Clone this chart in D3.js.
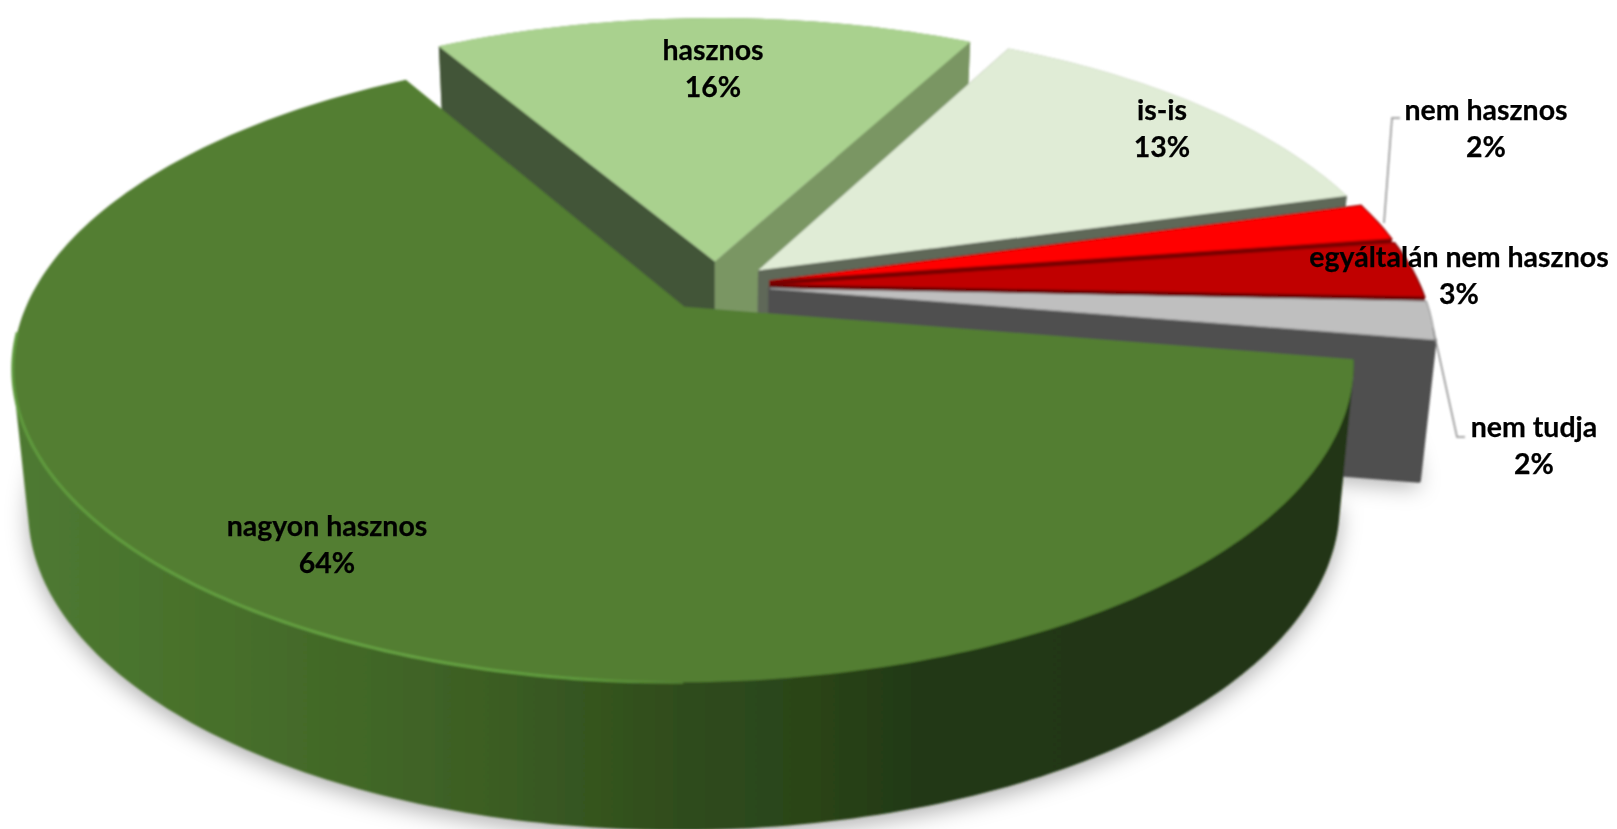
<!DOCTYPE html>
<html>
<head>
<meta charset="utf-8">
<script src="https://cdn.jsdelivr.net/npm/d3@7"></script>
<style>
  html, body { margin: 0; padding: 0; background: #fff; }
  text { font-family: Lato, "Open Sans", sans-serif; font-weight: 700; font-size: 28.5px; fill: #000; stroke: #000; stroke-width: 0.25px; text-anchor: middle; }
</style>
</head>
<body>
<svg id="board"></svg>
<script>
// chart values
let categories = ['nagyon hasznos', 'hasznos', 'is-is', 'nem hasznos', 'egyáltalán nem hasznos', 'nem tudja']
let shares = [64, 16, 13, 2, 3, 2]

// styles, same order as the categories
let topColors = ['#527e33', '#a9d18e', '#e0ecd6', '#ff0000', '#c00000', '#bfbfbf']
let startWallColors = ['#2f4a1e', '#435538', '#5f6758', '#8a0000', '#6e0000', '#555555']
let endWallColors = ['#2f4a1e', '#7a9664', '#5f6758', '#7a0000', '#6e0000', '#4f4f4f']
let arcWallColors = ['url(#wallGrad)', '#7a9664', '#8a9a80', '#b00000', '#900000', '#808080']
let labelSpots = [[327, 526], [713, 50], [1162, 110], [1486, 110], [1459, 257], [1534, 427]]
let lineGap = 37

let width = 1617
let height = 829

// perspective of the pie plane
let cx = 716
let cy = 286
let spreadX = 650
let spreadY = 297
let tilt = 0.186
let explode = 0.084
let wallDrop = 141
let wallShrink = 0.978
let firstAngle = 99.6 * Math.PI / 180

let board = d3.select('#board')
                .attr('width', width)
                .attr('height', height)
                .style('display', 'block')

let defs = board.append('defs')

let wallGrad = defs.append('linearGradient')
                .attr('id', 'wallGrad')
                .attr('gradientUnits', 'userSpaceOnUse')
                .attr('x1', 13).attr('x2', 1355).attr('y1', 0).attr('y2', 0)
let wallStops = [[0, '#4f7a32'], [0.15, '#47702b'], [0.3, '#406426'], [0.42, '#365620'], [0.5, '#2f4c1c'], [0.6, '#2a4419'], [0.68, '#213813'], [1, '#203412']]
wallStops.forEach((s) => wallGrad.append('stop').attr('offset', s[0]).attr('stop-color', s[1]))

let rimGrad = defs.append('linearGradient')
                .attr('id', 'rimGrad')
                .attr('gradientUnits', 'userSpaceOnUse')
                .attr('x1', 13).attr('x2', 1355).attr('y1', 0).attr('y2', 0)
let rimStops = [[0, '#5f9a3c'], [0.3, '#66a243'], [0.42, '#5f9a3c'], [0.5, '#527e33'], [1, '#527e33']]
rimStops.forEach((s) => rimGrad.append('stop').attr('offset', s[0]).attr('stop-color', s[1]))

defs.append('filter').attr('id', 'shadow')
    .attr('x', '-10%').attr('y', '-10%').attr('width', '120%').attr('height', '120%')
    .append('feGaussianBlur').attr('stdDeviation', 11)

defs.append('filter').attr('id', 'soft')
    .attr('x', '-2%').attr('y', '-2%').attr('width', '104%').attr('height', '104%')
    .append('feGaussianBlur').attr('stdDeviation', 0.8)

defs.append('filter').attr('id', 'softText')
    .attr('x', '-2%').attr('y', '-2%').attr('width', '104%').attr('height', '104%')
    .append('feGaussianBlur').attr('stdDeviation', 0.45)

let pie = d3.pie()
            .sort(null)
            .startAngle(firstAngle)
            .endAngle(firstAngle + 2 * Math.PI)
let slices = pie(shares)

// point on the top face: r is the fraction of the radius, shifted out along the slice middle
let topPoint = (slice, angle, r) => {
    let mid = (slice.startAngle + slice.endAngle) / 2
    let u = r * Math.sin(angle) + explode * Math.sin(mid)
    let v = r * Math.cos(angle) + explode * Math.cos(mid)
    let w = 1 + tilt * v
    return [cx + spreadX * u / w, cy - spreadY * v / w]
}

// same point on the bottom face
let lowPoint = (p) => {
    return [cx + (p[0] - cx) * wallShrink, p[1] + wallDrop + (p[1] - 343) * 0.02]
}

let arcPoints = (slice) => {
    let steps = Math.max(4, Math.ceil((slice.endAngle - slice.startAngle) * 60))
    return d3.range(steps + 1).map((i) => {
        return topPoint(slice, slice.startAngle + (slice.endAngle - slice.startAngle) * i / steps, 1)
    })
}

let line = d3.line()
let closed = (pts) => line(pts) + 'Z'

// shadow under everything
board.append('g')
    .attr('filter', 'url(#shadow)')
    .attr('transform', 'translate(0,7)')
    .selectAll('path')
    .data(slices)
    .enter()
    .append('path')
    .attr('d', (d) => {
        let apex = topPoint(d, 0, 0)
        return closed([apex].concat(arcPoints(d)).map(lowPoint))
    })
    .attr('fill', '#000')
    .attr('opacity', 0.3)

let chart = board.append('g').attr('filter', 'url(#soft)')

// paint from the back: small slices first in turn, big slice on top of them
let paintOrder = [1, 2, 3, 4, 5, 0]

paintOrder.forEach((i) => {
    let d = slices[i]
    let g = chart.append('g')
    let apex = topPoint(d, 0, 0)
    let rim = arcPoints(d)
    let first = rim[0]
    let last = rim[rim.length - 1]

    if (i === 0) {
        // the big slice only shows its curved wall: hull of the front part of the rim, up to the far left point
        let leftmost = d3.leastIndex(rim, (a, b) => a[0] - b[0])
        let frontRim = rim.slice(0, leftmost + 1)
        g.append('path')
            .attr('d', closed(d3.polygonHull(frontRim.concat(frontRim.map(lowPoint)))))
            .attr('fill', arcWallColors[i])
    } else {
        g.append('path')
            .attr('d', closed(rim.concat(rim.map(lowPoint).reverse())))
            .attr('fill', arcWallColors[i])

        g.append('path')
            .attr('d', closed([apex, first, lowPoint(first), lowPoint(apex)]))
            .attr('fill', startWallColors[i])

        g.append('path')
            .attr('d', closed([apex, last, lowPoint(last), lowPoint(apex)]))
            .attr('fill', endWallColors[i])
            .attr('stroke', i === 5 ? endWallColors[i] : 'none')
            .attr('stroke-width', i === 5 ? 4 : 0)
            .attr('stroke-linejoin', 'round')
    }

    g.append('path')
        .attr('d', closed([apex].concat(rim)))
        .attr('fill', topColors[i])
        .attr('stroke', i === 3 || i === 4 ? d3.color(topColors[i]).darker(1.4) : (i === 5 ? '#9a9a9a' : 'none'))
        .attr('stroke-width', i >= 3 ? 1.2 : 0)

    if (i === 0) {
        // light edge on the lit side only, it fades out before the middle
        let front = rim.filter((p, k) => p[0] < 684 && k < rim.length * 0.72)
        g.append('path')
            .attr('d', line(front))
            .attr('fill', 'none')
            .attr('stroke', 'url(#rimGrad)')
            .attr('stroke-width', 3)
    }
})

// leader lines for the two outside labels
let leaders = [
    [[1400, 118], [1392, 118], [1384, 223]],
    [[1465, 437], [1457, 437], [1433, 328]]
]
chart.selectAll('.leader')
    .data(leaders)
    .enter()
    .append('path')
    .attr('class', 'leader')
    .attr('d', (d) => line(d))
    .attr('fill', 'none')
    .attr('stroke', '#8c8c8c')
    .attr('stroke-width', 1.5)

// labels: name and share on two lines
let labels = board.append('g')
    .attr('filter', 'url(#softText)')
    .selectAll('.label')
    .data(slices)
    .enter()
    .append('g')
    .attr('class', 'label')

labels.append('text')
    .attr('x', (d, i) => labelSpots[i][0])
    .attr('y', (d, i) => labelSpots[i][1])
    .attr('dy', '0.35em')
    .text((d, i) => categories[i])

labels.append('text')
    .attr('x', (d, i) => labelSpots[i][0])
    .attr('y', (d, i) => labelSpots[i][1] + lineGap)
    .attr('dy', '0.35em')
    .text((d, i) => shares[i] + '%')
</script>
</body>
</html>
